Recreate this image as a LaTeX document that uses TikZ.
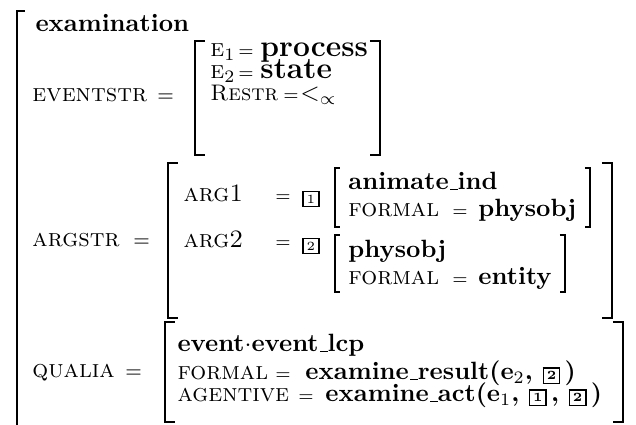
\documentclass[tikz,border=0pt]{standalone}
\usepackage{amsmath}
\usepackage{amssymb}
\usepackage{tikz}
\newcommand{\tagbox}[1]{{\setlength{\fboxsep}{1.1pt}\setlength{\fboxrule}{0.6pt}\fbox{\tiny #1}}}
\newcommand{\lowbar}{\leavevmode\kern.06em\vbox{\hrule height .55pt width .3em}}

\begin{document}
\begin{tikzpicture}[x=0.4pt,y=-0.4pt,
    lab/.style={font=\scshape, anchor=base west, inner sep=0pt},
    eqs/.style={font=\footnotesize, anchor=base west, inner sep=0pt},
    smeq/.style={font=\scriptsize, anchor=base west, inner sep=0pt},
    val/.style={font=\bfseries, anchor=base west, inner sep=0pt},
    bigval/.style={font=\large\bfseries, anchor=base west, inner sep=0pt},
    brk/.style={line width=0.8pt},
    thinbrk/.style={line width=0.55pt}]
    \useasboundingbox (0,0) rectangle (636,425);
    \draw[brk] (25,11)--(17,11)--(17,430);
    \node[val] (exam) at (35,32) {examination};
    \node[lab] (evlab) at (32,102) {eventstr};
    \node[eqs] (eveq) at (157,102) {=};
    \draw[brk] (205,41)--(195,41)--(195,155)--(205,155);
    \draw[brk] (370,41)--(380,41)--(380,155)--(370,155);
    \node[lab] (eone) at (210,57) {e$_1$};
    \node[smeq] (eoneeq) at (238,57) {=};
    \node[bigval] (eoneval) at (260,57) {process};
    \node[lab] (etwo) at (210,79) {e$_2$};
    \node[smeq] (etwoeq) at (238,79) {=};
    \node[bigval] (etwoval) at (260,79) {state};
    \node[lab, font=\small\scshape] (restr) at (210,101) {Restr};
    \node[smeq] (restreq) at (283,101) {=};
    \node[anchor=base west, inner sep=0pt] (restrval) at (300,101) {$<_{\propto}$};
    \node[lab] (arglab) at (32,247) {argstr};
    \node[eqs] (argeq) at (133,247) {=};
    \draw[brk] (178,163)--(168,163)--(168,318)--(178,318);
    \draw[brk] (602,163)--(612,163)--(612,318)--(602,318);
    \node[lab] (argone) at (183,202) {arg1};
    \node[smeq] (argoneeq) at (275,202) {=};
    \node[inner sep=0pt] (boxone) at (311,199) {\tagbox{1}};
    \draw[thinbrk] (340,168)--(335,168)--(335,227)--(340,227);
    \draw[thinbrk] (585,168)--(590,168)--(590,227)--(585,227);
    \node[val] (animate) at (348,190) {animate\lowbar ind};
    \node[lab] (fone) at (348,217) {formal};
    \node[smeq] (foneeq) at (452,217) {=};
    \node[val] (foneval) at (478,217) {physobj};
    \node[lab] (argtwo) at (183,248) {arg2};
    \node[smeq] (argtwoeq) at (275,248) {=};
    \node[inner sep=0pt] (boxtwo) at (311,246) {\tagbox{2}};
    \draw[thinbrk] (340,235)--(335,235)--(335,292)--(340,292);
    \draw[thinbrk] (560,235)--(565,235)--(565,292)--(560,292);
    \node[val] (physobj) at (348,258) {physobj};
    \node[lab] (ftwo) at (348,285) {formal};
    \node[smeq] (ftwoeq) at (452,285) {=};
    \node[val] (ftwoval) at (478,285) {entity};
    \node[lab] (qlab) at (32,378) {qualia};
    \node[eqs] (qeq) at (125,378) {=};
    \draw[brk] (175,322)--(165,322)--(165,422)--(175,422);
    \draw[brk] (613,322)--(623,322)--(623,422)--(613,422);
    \node[val] (evtype) at (177,352) {event$\cdot$event\lowbar lcp};
    \node[lab] (qform) at (177,380) {formal};
    \node[smeq] (qformeq) at (275,380) {=};
    \node[val] (qformval) at (305,380) {examine\lowbar result(e$_2$,\ \tagbox{2}\,)};
    \node[lab] (qagent) at (177,402) {agentive};
    \node[smeq] (qagenteq) at (298,402) {=};
    \node[val] (qagentval) at (325,402) {examine\lowbar act(e$_1$,\ \tagbox{1}\,,\ \tagbox{2}\,)};
\end{tikzpicture}
\end{document}
